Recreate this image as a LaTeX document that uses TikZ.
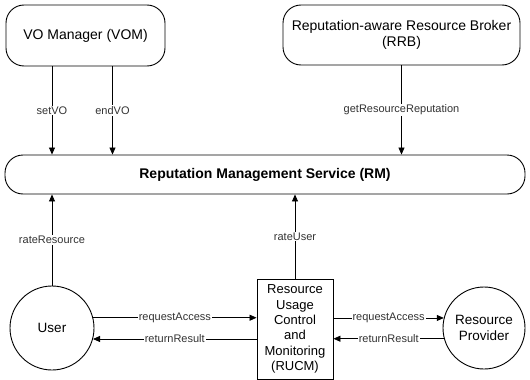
\documentclass[tikz,border=0pt]{standalone}
\usepackage{fontspec}
\setmainfont{Liberation Sans}
\usepackage{tikz}
\usetikzlibrary{shapes.geometric, arrows.meta, positioning}

\begin{document}
\begin{tikzpicture}[x=1pt, y=-1pt]
\tikzstyle{roundbox} = [rectangle, draw, rounded corners=18pt, align=center, font=\fontsize{14}{16.5}\selectfont, line width=0.9pt]
\tikzstyle{actor} = [circle, draw, align=center, inner sep=0pt, font=\fontsize{13.5}{16}\selectfont, line width=0.9pt]
\tikzstyle{arrow} = [line width=0.8pt, -{Triangle[length=7pt, width=6pt]}]
\tikzstyle{lbl} = [midway, fill=white, inner sep=1pt, font=\fontsize{11}{13}\selectfont, text=black!80]

\useasboundingbox (0,0) rectangle (530,380);

\node (vom) [roundbox, minimum width=159pt, minimum height=61pt] at (85.5,35.5) {VO Manager (VOM)};
\node (rrb) [roundbox, minimum width=237pt, minimum height=60pt] at (401.5,35) {Reputation-aware Resource Broker\\(RRB)};
\node (rm) [roundbox, minimum width=520pt, minimum height=39pt, font=\fontsize{14}{16}\selectfont\bfseries] at (265,174.5) {Reputation Management Service (RM)};

\node (user) [actor, minimum size=84pt] at (52,328) {User};
\node (rucm) [rectangle, draw, line width=0.9pt, align=center, minimum width=76pt, minimum height=100pt, inner sep=2pt, font=\fontsize{13}{15.4}\selectfont] at (295,329) {Resource\\Usage\\Control\\and\\Monitoring\\(RUCM)};
\node (rp) [actor, minimum size=82pt] at (484,328) {Resource\\Provider};

% calls into RM
\draw [arrow] (vom.south -| user) -- node[lbl] {setVO} (rm.north -| user);
\draw [arrow] ([xshift=27pt]vom.south) -- node[lbl] {endVO} ([xshift=27pt]vom.south |- rm.north);
\draw [arrow] (rrb.south) -- node[lbl] {getResourceReputation} (rrb.south |- rm.north);
\draw [arrow] (user.north) -- node[lbl] {rateResource} (rm.south -| user);
\draw [arrow] (rucm.north) -- node[lbl] {rateUser} (rm.south -| rucm);

% access requests
\draw [arrow] (user.14) -- node[lbl] {requestAccess} (user.14 -| rucm.west);
\draw [arrow] (rucm.west |- user.-15) -- node[lbl] {returnResult} (user.-15);
\draw [arrow] (rucm.east |- rp.166) -- node[lbl] {requestAccess} (rp.166);
\draw [arrow] (rp.195) -- node[lbl] {returnResult} (rp.195 -| rucm.east);

\end{tikzpicture}
\end{document}
